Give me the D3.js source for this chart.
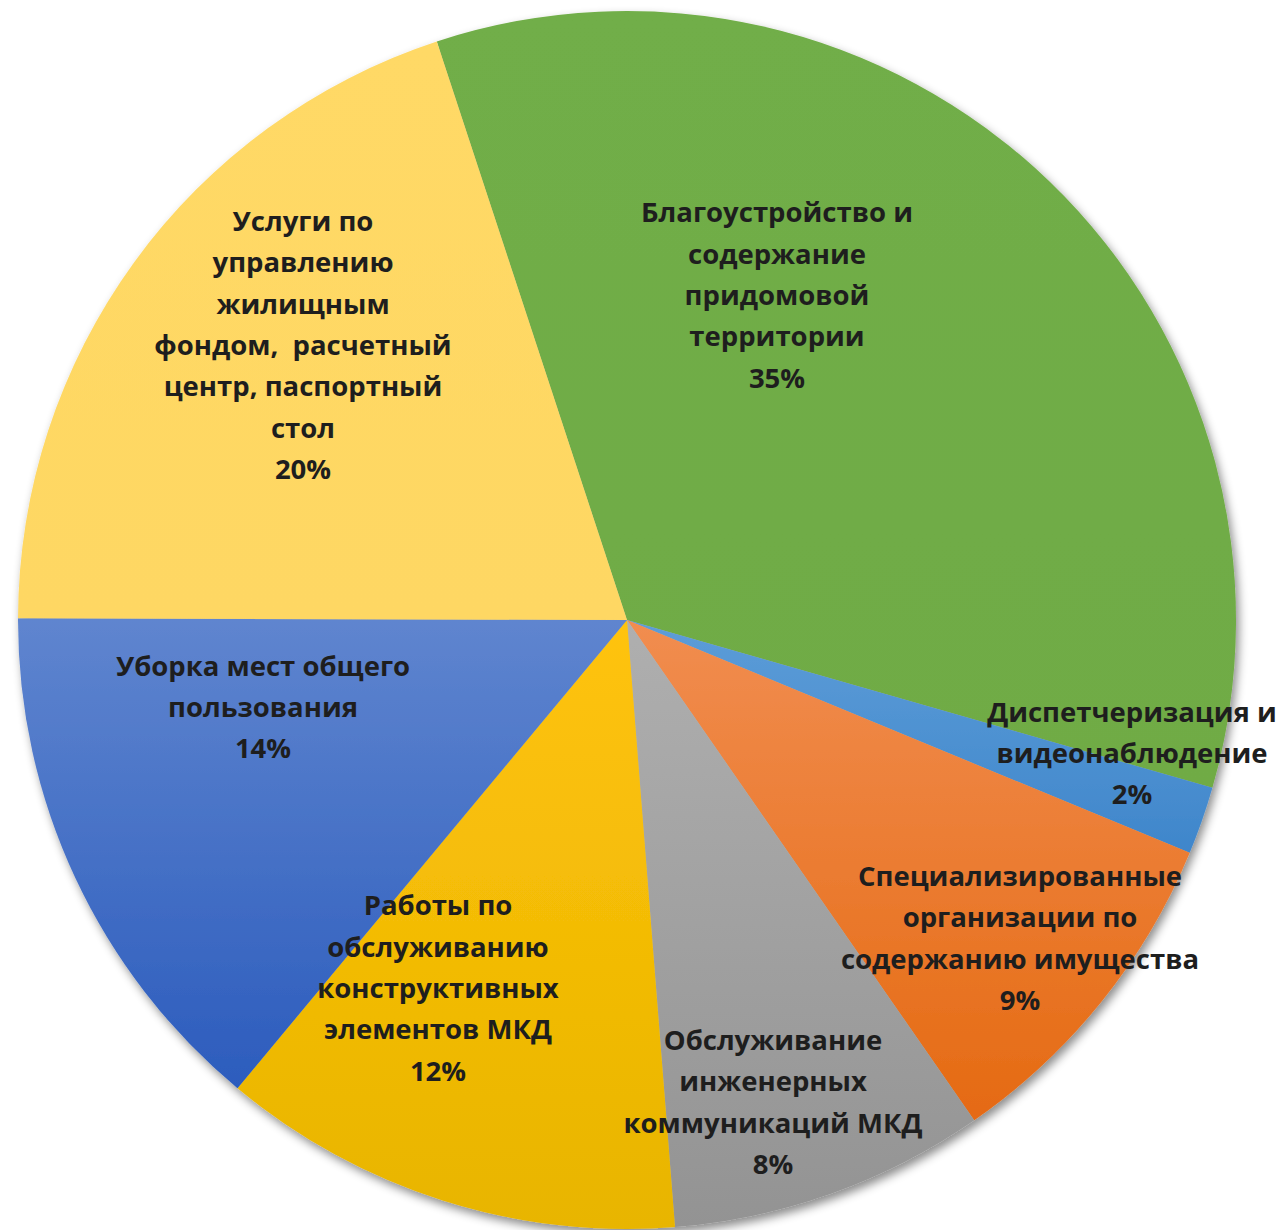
<!DOCTYPE html>
<html>
<head>
<meta charset="utf-8">
<script src="https://cdn.jsdelivr.net/npm/d3@7"></script>
<style>
  html, body { margin: 0; padding: 0; background: #fff; }
  svg { display: block; }
</style>
</head>
<body>
<svg id="chart" width="1280" height="1230"></svg>
<script>
// Data (clockwise from the green slice)
const categories = [
  "Благоустройство и содержание придомовой территории",
  "Диспетчеризация и видеонаблюдение",
  "Специализированные организации по содержанию имущества",
  "Обслуживание инженерных коммуникаций МКД",
  "Работы по обслуживанию конструктивных элементов МКД",
  "Уборка мест общего пользования",
  "Услуги по управлению жилищным фондом,  расчетный центр, паспортный стол"
];
const values = [34.5, 1.8, 9.1, 8.4, 12.3, 14.0, 19.9];
const percentLabels = ["35%", "2%", "9%", "8%", "12%", "14%", "20%"];
const labelLines = [
  ["Благоустройство и", "содержание", "придомовой", "территории"],
  ["Диспетчеризация и", "видеонаблюдение"],
  ["Специализированные", "организации по", "содержанию имущества"],
  ["Обслуживание", "инженерных", "коммуникаций МКД"],
  ["Работы по", "обслуживанию", "конструктивных", "элементов МКД"],
  ["Уборка мест общего", "пользования"],
  ["Услуги по", "управлению", "жилищным", "фондом,  расчетный", "центр, паспортный", "стол"]
];
const colorsTop    = ["#71AE48", "#5D9DD8", "#F18D50", "#AFAFAF", "#FFC30C", "#5F85CF", "#FFD966"];
const colorsBottom = ["#6FAB45", "#3F86CB", "#E56A12", "#939393", "#E8B500", "#2C5CBD", "#FED763"];

const cx = 627, cy = 620, R = 609;
const startAngle = -18.2 * Math.PI / 180;

const svg = d3.select("#chart");
const defs = svg.append("defs");

const shadow = defs.append("filter").attr("id", "shadow")
  .attr("x", "-10%").attr("y", "-10%").attr("width", "120%").attr("height", "120%");
shadow.append("feDropShadow").attr("dx", 3).attr("dy", 5).attr("stdDeviation", 5)
  .attr("flood-color", "#000").attr("flood-opacity", 0.45);

values.forEach((v, i) => {
  const g = defs.append("linearGradient").attr("id", "grad" + i)
    .attr("x1", 0).attr("y1", 0).attr("x2", 0).attr("y2", 1);
  g.append("stop").attr("offset", "0%").attr("stop-color", colorsTop[i]);
  g.append("stop").attr("offset", "100%").attr("stop-color", colorsBottom[i]);
});

const pie = d3.pie().sort(null).value(d => d)
  .startAngle(startAngle).endAngle(startAngle + 2 * Math.PI);
const arcs = pie(values);
const arc = d3.arc().innerRadius(0).outerRadius(R);

const g = svg.append("g").attr("transform", `translate(${cx},${cy})`);
const slices = g.append("g").attr("filter", "url(#shadow)");
slices.selectAll("path").data(arcs).enter().append("path")
  .attr("d", arc)
  .attr("fill", (d, i) => `url(#grad${i})`);

const labelPos = [
  {x: 777, y: 294}, {x: 1132, y: 752}, {x: 1020, y: 937}, {x: 773, y: 1101},
  {x: 438, y: 987}, {x: 263, y: 706}, {x: 303, y: 344}
];
const lineH = 41.4;
const lbl = svg.append("g")
  .attr("font-family", "'Open Sans', 'DejaVu Sans', sans-serif")
  .attr("font-weight", "bold")
  .attr("font-size", 27.5)
  .attr("fill", "#1e1e1e")
  .attr("text-anchor", "middle");

arcs.forEach((a, i) => {
  const lines = labelLines[i].concat([percentLabels[i]]);
  const n = lines.length;
  const p = labelPos[i];
  const t = lbl.append("text")
    .attr("x", p.x).attr("y", p.y - (n - 1) * lineH / 2)
    .attr("dominant-baseline", "central");
  lines.forEach((ln, k) => {
    t.append("tspan").attr("x", p.x)
      .attr("dy", k === 0 ? 0 : lineH)
      .attr("xml:space", "preserve")
      .text(ln);
  });
});
</script>
</body>
</html>
